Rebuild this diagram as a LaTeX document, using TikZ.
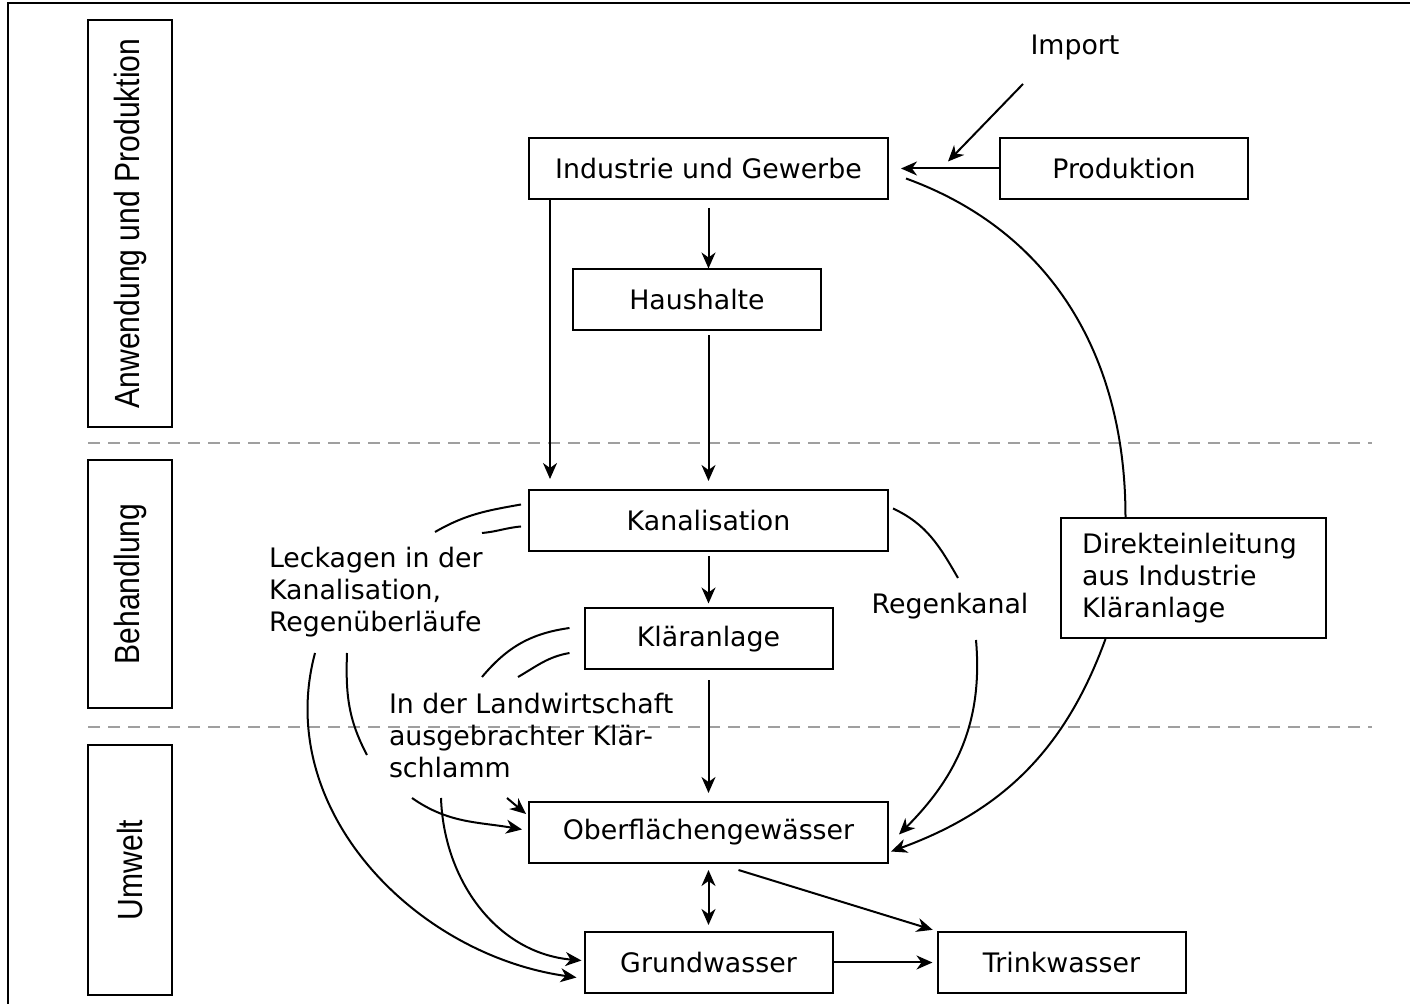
\documentclass[tikz,border=0pt]{standalone}
\usepackage{fontspec}
\setmainfont{DejaVu Sans}
\newfontfamily\sidefont[FakeStretch=0.86]{Liberation Sans}
\usetikzlibrary{arrows.meta}

\begin{document}
\begin{tikzpicture}[x=0.5pt,y=0.5pt,line width=1pt,
  font=\fontsize{13.4pt}{16pt}\selectfont,
  widebox/.style={draw,minimum width=179.5pt,minimum height=30.5pt,inner sep=0pt},
  narrowbox/.style={draw,minimum width=124pt,minimum height=30.5pt,inner sep=0pt},
  sidebox/.style={draw,rotate=90,minimum height=42pt,inner sep=0pt,font=\sidefont\fontsize{17.5pt}{20pt}\selectfont},
  flowarrow/.style={-{Stealth[length=8pt,width=7pt,inset=2.5pt]}},
  sectionline/.style={gray!75,dash pattern=on 6pt off 4pt}]
\useasboundingbox (0,0) rectangle (1410,-1004);
\draw (8,-1004) -- (8,-3) -- (1410,-3);

% Bereiche
\node[sidebox,minimum width=203.5pt] (anw) at (130,-223.5) {Anwendung und Produktion};
\node[sidebox,minimum width=124pt] (beh) at (130,-584) {Behandlung};
\node[sidebox,minimum width=125pt] (umw) at (130,-870) {Umwelt};
\draw[sectionline] (88,-443) -- (1372,-443);
\draw[sectionline] (88,-727) -- (1372,-727);

\node[widebox] (indus) at (708.5,-168.5) {Industrie und Gewerbe};
\node[narrowbox] (prod) at (1124,-168.5) {Produktion};
\node (import) at (1075,-48) {Import};
\node[narrowbox] (haus) at (697,-300) {Haushalte};
\node[widebox] (kanal) at (708.5,-520.5) {Kanalisation};
\node[narrowbox] (klaer) at (708.5,-639) {Kläranlage};
\node[draw,minimum width=132.5pt,minimum height=60pt,text width=111.5pt,align=left,inner sep=0pt] (direkt) at (1193.5,-578) {Direkteinleitung\\aus Industrie\\Kläranlage};
\node[widebox] (ober) at (708.5,-832.5) {Oberflächengewässer};
\node[narrowbox] (grund) at (708.5,-962.5) {Grundwasser};
\node[narrowbox] (trink) at (1061.5,-962.5) {Trinkwasser};
\node[anchor=west,align=left,inner sep=0pt] (leck) at (268,-592) {Leckagen in der\\Kanalisation,\\Regenüberläufe};
\node[anchor=west,align=left,inner sep=0pt] (landw) at (388,-736) {In der Landwirtschaft\\ausgebrachter Klär-\\schlamm};
\node (regen) at (950,-606) {Regenkanal};

% Enden der Linien an den Beschriftungen
\coordinate (leckA) at (435,-532);
\coordinate (leckB) at (482,-533);
\coordinate (leckC) at (315,-653);
\coordinate (leckD) at (347,-653);
\coordinate (leckE) at (367,-755);
\coordinate (leckF) at (507,-798);
\coordinate (landwA) at (482,-677);
\coordinate (landwB) at (518,-677);
\coordinate (landwC) at (412,-798);
\coordinate (landwD) at (441,-798);
\coordinate (regenA) at (958,-578);
\coordinate (regenB) at (976,-640);

\draw[flowarrow] ([xshift=-26pt,yshift=-18pt]import.center) -- ([xshift=29.5pt,yshift=3.5pt]indus.east);
\draw[flowarrow] (prod.west) -- ([xshift=6pt]indus.east);
\draw[flowarrow,shorten <=4pt] (indus.south) -- (indus.south |- haus.north);
\draw[flowarrow,shorten <=2pt,shorten >=4pt] (indus.south |- haus.south) -- (indus.south |- kanal.north);
\draw[flowarrow,shorten >=5pt] ([xshift=11pt]indus.south west) -- ([xshift=11pt]indus.south west |- kanal.north);
\draw[flowarrow,shorten <=2pt,shorten >=2pt] (kanal.south) -- (klaer.north);
\draw[flowarrow,shorten <=5pt,shorten >=4pt] (klaer.south) -- (ober.north);
\draw[{Stealth[length=8pt,width=7pt,inset=2.5pt]}-{Stealth[length=8pt,width=7pt,inset=2.5pt]},shorten <=3pt,shorten >=3pt] (ober.south) -- (grund.north);
\draw[flowarrow,shorten >=2pt] ([xshift=15pt,yshift=-3pt]ober.south) -- (trink.north west);
\draw[flowarrow,shorten >=2pt] (grund.east) -- (trink.west);

\draw ([xshift=-3.5pt,yshift=8pt]kanal.west) to[out=190,in=30] (leckA);
\draw ([xshift=-3.5pt,yshift=-3pt]kanal.west) to[out=185,in=5] (leckB);
\draw[flowarrow] (leckC) to[out=-105,in=172] ([xshift=-3.5pt,yshift=-7.5pt]grund.west);
\draw (leckD) to[out=-92,in=118] (leckE);
\draw[flowarrow] (leckF) -- ([xshift=-1pt,yshift=-6.5pt]ober.north west);
\draw ([xshift=-7pt,yshift=5.5pt]klaer.west) to[out=188,in=50] (landwA);
\draw ([xshift=-7pt,yshift=-7pt]klaer.west) to[out=190,in=30] (landwB);
\draw[flowarrow] (landwC) to[out=-35,in=170] ([xshift=-3pt,yshift=1.5pt]ober.west);
\draw[flowarrow] (landwD) to[out=-88,in=175] ([xshift=-1pt,yshift=1pt]grund.west);
\draw ([xshift=2pt,yshift=6pt]kanal.east) to[out=-25,in=120] (regenA);
\draw[flowarrow] (regenB) to[out=-85,in=45] ([xshift=5pt,yshift=-1pt]ober.east);
\draw[flowarrow] ([xshift=-44pt]direkt.south) to[out=-110,in=20] ([xshift=1pt,yshift=-9.5pt]ober.east);
\draw ([xshift=-34pt]direkt.north) to[out=90,in=-20] ([xshift=8.5pt,yshift=-5pt]indus.east);
\end{tikzpicture}
\end{document}
